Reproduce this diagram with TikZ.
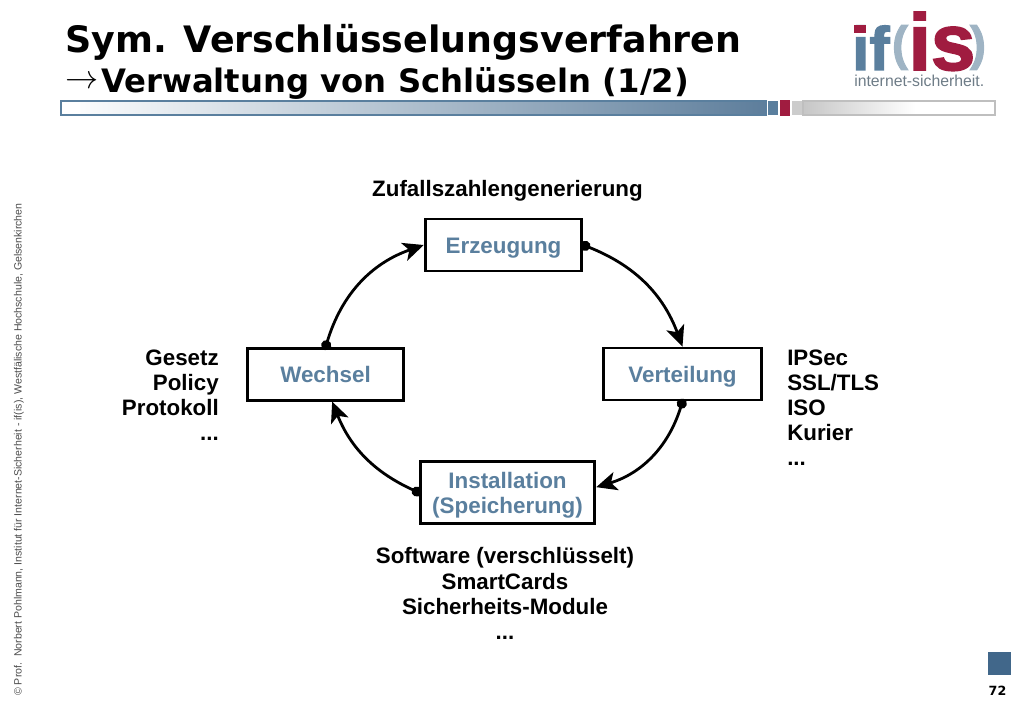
\documentclass[tikz,border=0pt]{standalone}
\usepackage{fontspec}
\setmainfont{Liberation Sans}
\newfontfamily\titlefont{DejaVu Sans}
\newfontfamily\logofont[UprightFont=* Bold,FakeBold=2]{Liberation Sans}
\usetikzlibrary{arrows.meta}
\definecolor{steelblue}{HTML}{5A7F9E}
\definecolor{darksteel}{HTML}{41678A}
\definecolor{lightsteel}{HTML}{9FB4C4}
\definecolor{crimson}{HTML}{A01C40}
\definecolor{logogrey}{HTML}{6E7C87}
\begin{document}
\begin{tikzpicture}[x=0.75pt,y=-0.75pt,line join=miter]
    \tikzstyle{phase}=[draw=black,line width=2.1pt,fill=white,inner sep=0pt,text=steelblue,font=\fontsize{16.8}{18.5}\selectfont\bfseries,align=center]
    \tikzstyle{info}=[inner sep=0pt,font=\fontsize{16.75}{18.8}\selectfont\bfseries]
    \tikzstyle{flow}=[line width=2.1pt,{Circle[length=7.5pt]}-{Stealth[length=15.5pt,width=14pt,inset=4pt]},shorten <=-2pt]
    \tikzstyle{headline}=[inner sep=0pt,anchor=base west]
    \tikzstyle{logotext}=[inner sep=0pt,anchor=base]

    \useasboundingbox (0,0) rectangle (1024,709);

    % headline
    \node[headline,font=\titlefont\bfseries\fontsize{27.3}{30}\selectfont] (title-1) at (65,53) {Sym. Verschlüsselungsverfahren};
    \node[headline,font=\fontsize{24.88}{26}\selectfont] (title-arrow) at (65,89) {$\rightarrow$};
    \node[headline,font=\titlefont\bfseries\fontsize{24.2}{26}\selectfont] (title-2) at (101,93) {Verwaltung von Schlüsseln (1/2)};

    % logo
    \node[logotext,text=steelblue,font=\logofont\fontsize{46}{46}\selectfont] (logo-if) at (871,70) {if};
    \fill[crimson] (854,25) rectangle (866,33);
    \node[logotext,text=lightsteel,font=\logofont\fontsize{36}{36}\selectfont] (logo-open) at (900,60) {(};
    \node[logotext,text=crimson,font=\logofont\fontsize{60}{60}\selectfont] (logo-is) at (942,70) {is};
    \node[logotext,text=lightsteel,font=\logofont\fontsize{36}{36}\selectfont] (logo-close) at (978,60) {)};
    \node[inner sep=0pt,anchor=base west,text=logogrey,font=\fontsize{11.85}{14}\selectfont] (logo-name) at (854,87) {internet-sicherheit.};

    % bar
    \shade[left color=white,right color=darksteel!85!white] (61,101) rectangle (766,115);
    \fill[white] (61,102) rectangle (80,114);
    \fill[steelblue] (768,101) rectangle (778,115);
    \fill[crimson] (780,100) rectangle (790,116);
    \fill[black!20] (792,101) rectangle (802,115);
    \shade[left color=black!22,right color=white] (804,102) rectangle (915,114);
    \draw[steelblue,line width=1.2pt] (61,101) rectangle (766,115);
    \draw[black!25,line width=1.2pt] (803,101) rectangle (995,115);

    % boxes
    \node[phase,minimum width=117.5pt,minimum height=39pt,text height=16pt,text depth=3.6pt] (E) at (503.5,245) {Erzeugung};
    \node[phase,minimum width=118pt,minimum height=39pt,text height=16pt,text depth=3.6pt] (V) at (682.5,374) {Verteilung};
    \node[phase,minimum width=131pt,minimum height=47pt] (I) at (507.5,492.5) {\rule{0pt}{16.8pt}Installation\\(Speicherung)};
    \node[phase,minimum width=117.5pt,minimum height=38.5pt,text height=16pt,text depth=3.6pt] (W) at (325.5,374.5) {Wechsel};

    \path[flow] (E.east) edge[draw,bend left=24] (V.north);
    \path[flow] (V.south) edge[draw,bend left=28] ([yshift=4]I.east);
    \path[flow] (I.west) edge[draw,bend left=22] ([xshift=5]W.south);
    \path[flow] (W.north) edge[draw,bend left=27] (E.west);

    % labels
    \node[info,anchor=center] (top-text) at (507.5,190.5) {Zufallszahlengenerierung};
    \node[info,anchor=north east,align=right] (left-text) at (219,349.5) {Gesetz\\Policy\\Protokoll\\...};
    \node[info,anchor=north west,align=left] (right-text) at (787,349.5) {IPSec\\SSL/TLS\\ISO\\Kurier\\...};
    \node[info,anchor=north,align=center] (bottom-text) at (505,547.5) {Software (verschlüsselt)\\SmartCards\\Sicherheits-Module\\...};

    % footer
    \node[inner sep=0pt,rotate=90,anchor=west,text=black!70,font=\fontsize{7.92}{8}\selectfont] (side-text) at (19,696) {© Prof.\ \ Norbert Pohlmann, Institut für Internet-Sicherheit - if(is), Westfälische Hochschule, Gelsenkirchen};
    \fill[darksteel] (988,652) rectangle (1011,675);
    \node[inner sep=0pt,font=\titlefont\bfseries\fontsize{9.5}{10}\selectfont] (page-no) at (997.5,691) {72};
\end{tikzpicture}
\end{document}
